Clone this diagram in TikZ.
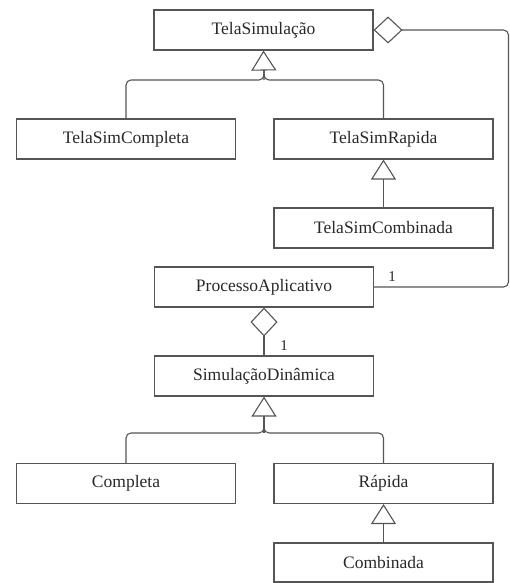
\documentclass[tikz,border=0pt]{standalone}
\usepackage{fontspec}
\setmainfont{Liberation Serif}
\usetikzlibrary{arrows.meta}
\definecolor{ln}{RGB}{85,85,85}
\definecolor{tx}{RGB}{40,40,40}
\begin{document}
\begin{tikzpicture}[x=1pt,y=-1pt,
  cls/.style={draw=ln,line width=1.1pt,minimum width=219pt,minimum height=40pt,inner sep=0pt,text=tx,font=\fontsize{17.5}{20}\selectfont},
  conn/.style={draw=ln,line width=1.1pt},
  gen/.style={conn,{Triangle[open,width=25pt,length=20pt]}-},
  agg/.style={conn,{Diamond[open,width=27pt,length=29pt]}-},
  mult/.style={text=tx,font=\fontsize{15}{17}\selectfont,inner sep=0pt}]
\useasboundingbox (0,0) rectangle (510,583);
\node[cls] (ts) at (263.5,30) {TelaSimulação};
\node[cls] (tsc) at (126,139) {TelaSimCompleta};
\node[cls] (tsr) at (383.5,139) {TelaSimRapida};
\node[cls] (tscb) at (383.5,228) {TelaSimCombinada};
\node[cls] (pa) at (264,287) {ProcessoAplicativo};
\node[cls] (sd) at (264,376) {SimulaçãoDinâmica};
\node[cls] (c) at (126,483.5) {Completa};
\node[cls] (r) at (383.5,483.5) {Rápida};
\node[cls,minimum height=39pt] (cb) at (383.5,562.5) {Combinada};
% generalization tree top
\coordinate (j1) at (264,80);
\draw[gen] (ts.south) -- (j1);
\draw[conn,rounded corners=5pt] (tsc.north) |- (j1) -- (264,70);
\draw[conn,rounded corners=5pt] (tsr.north) |- (j1) -- (264,70);
\draw[gen] (tsr.south) -- (tscb.north);
% aggregation TelaSimulacao - ProcessoAplicativo
\coordinate (k1) at (508.5,30);
\coordinate (k2) at (508.5,287);
\draw[agg,rounded corners=5pt] (ts.east) -- (k1) -- (k2) -- (pa.east);
\node[mult] (m1) at (392,277) {1};
% aggregation ProcessoAplicativo - SimulacaoDinamica
\draw[agg] (pa.south) -- (sd.north);
\node[mult] (m2) at (284,346) {1};
% generalization tree bottom
\coordinate (j2) at (264,433);
\draw[gen] (sd.south) -- (j2);
\draw[conn,rounded corners=5pt] (c.north) |- (j2) -- (264,423);
\draw[conn,rounded corners=5pt] (r.north) |- (j2) -- (264,423);
\draw[gen] (r.south) -- (cb.north);
\end{tikzpicture}
\end{document}
